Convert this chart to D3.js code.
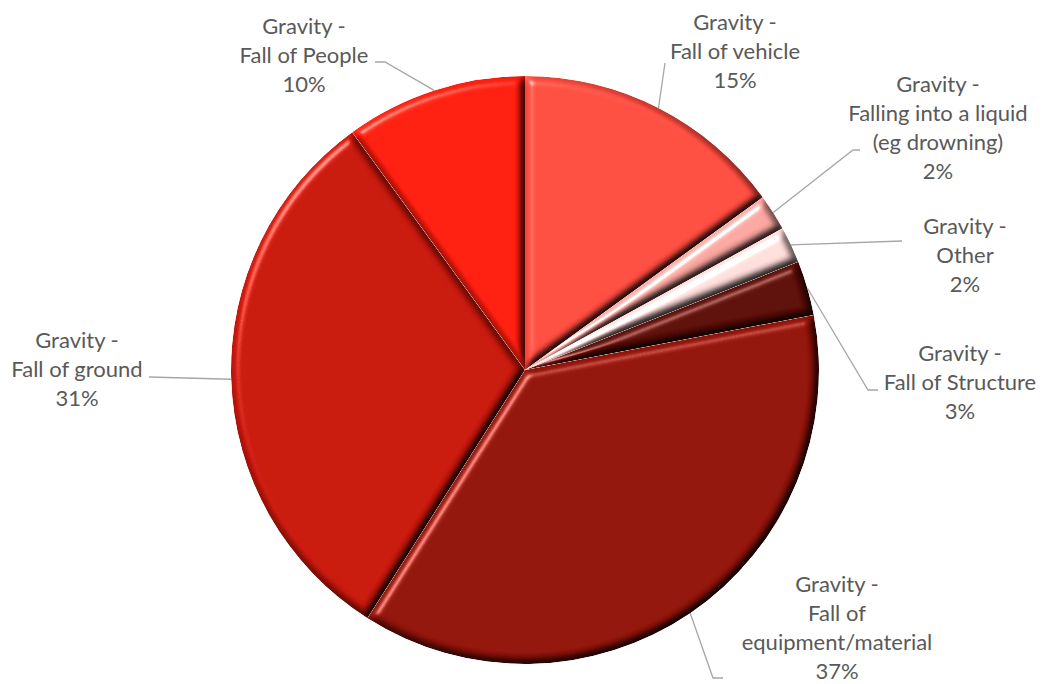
<!DOCTYPE html>
<html>
<head>
<meta charset="utf-8">
<script src="https://cdn.jsdelivr.net/npm/d3@7"></script>
<style>
  html, body { margin: 0; padding: 0; background: #fff; }
  svg { display: block; }
  text { font-family: Lato, "Open Sans", sans-serif; fill: #595959; }
</style>
</head>
<body>
<svg id="chart" width="1044" height="684"></svg>
<script>
// ---- data ----
const categories = [
  "Gravity - Fall of vehicle",
  "Gravity - Falling into a liquid (eg drowning)",
  "Gravity - Other",
  "Gravity - Fall of Structure",
  "Gravity - Fall of equipment/material",
  "Gravity - Fall of ground",
  "Gravity - Fall of People"
];
const values = [15, 2, 2, 3, 37, 31, 10];
const labelLines = [
  ["Gravity -", "Fall of vehicle"],
  ["Gravity -", "Falling into a liquid", "(eg drowning)"],
  ["Gravity -", "Other"],
  ["Gravity -", "Fall of Structure"],
  ["Gravity -", "Fall of", "equipment/material"],
  ["Gravity -", "Fall of ground"],
  ["Gravity -", "Fall of People"]
];
const colors = ["#FF4A3E", "#F6A29C", "#FBD9D6", "#5A0B05", "#8E1108", "#C4150A", "#FF1B0C"];

// ---- layout (label placement: centre x, first baseline y, leader elbow & end) ----
const labelLayout = [
  { x: 735, y: 30,  elbow: [665, 63],  end: [665, 63] },
  { x: 938, y: 92,  elbow: [853, 150], end: [860, 150] },
  { x: 965, y: 234, elbow: [902, 241], end: [902, 241] },
  { x: 960, y: 361, elbow: [868, 390], end: [878, 390] },
  { x: 837, y: 592, elbow: [713, 678], end: [723, 678] },
  { x: 77,  y: 348, elbow: [149, 377], end: [149, 377] },
  { x: 304, y: 34,  elbow: [385, 62],  end: [375, 62] }
];
const lineHeight = 29;

const width = 1044, height = 684;
const cx = 525, cy = 370, radius = 294;

const svg = d3.select("#chart");
const defs = svg.append("defs");

const f = defs.append("filter").attr("id", "bevel")
  .attr("x", "-5%").attr("y", "-5%").attr("width", "110%").attr("height", "110%")
  .attr("color-interpolation-filters", "sRGB");
f.append("feGaussianBlur").attr("in", "SourceAlpha").attr("stdDeviation", 4.5).attr("result", "b");
const dl = f.append("feDiffuseLighting").attr("in", "b").attr("surfaceScale", 7)
  .attr("diffuseConstant", 1.155).attr("lighting-color", "#fff").attr("result", "d");
dl.append("feDistantLight").attr("azimuth", 225).attr("elevation", 60);
const sl = f.append("feSpecularLighting").attr("in", "b").attr("surfaceScale", 7)
  .attr("specularConstant", 1).attr("specularExponent", 25).attr("lighting-color", "#fff").attr("result", "s");
sl.append("feDistantLight").attr("azimuth", 225).attr("elevation", 35);
f.append("feComposite").attr("in", "SourceGraphic").attr("in2", "d").attr("operator", "arithmetic")
  .attr("k1", 1).attr("k2", 0).attr("k3", 0).attr("k4", 0).attr("result", "lit");
f.append("feComposite").attr("in", "s").attr("in2", "SourceAlpha").attr("operator", "in").attr("result", "sIn");
f.append("feComposite").attr("in", "lit").attr("in2", "sIn").attr("operator", "arithmetic")
  .attr("k1", 0).attr("k2", 1).attr("k3", 0.5).attr("k4", 0).attr("result", "out");
f.append("feComposite").attr("in", "out").attr("in2", "SourceAlpha").attr("operator", "in");

const data = categories.map((c, i) => ({ cat: c, value: values[i], i }));
const pie = d3.pie().value(d => d.value).sort(null);
const arcs = pie(data);
const arc = d3.arc().innerRadius(0).outerRadius(radius);

const g = svg.append("g").attr("transform", `translate(${cx},${cy})`);
g.selectAll("path.slice").data(arcs).join("path")
  .attr("class", "slice")
  .attr("d", arc)
  .attr("fill", d => colors[d.data.i])
  .attr("filter", "url(#bevel)");

// leader lines
const lines = svg.append("g");
arcs.forEach(a => {
  const mid = (a.startAngle + a.endAngle) / 2;
  const px = cx + radius * Math.sin(mid);
  const py = cy - radius * Math.cos(mid);
  const L = labelLayout[a.data.i];
  lines.append("path")
    .attr("d", d3.line()([[px, py], L.elbow, L.end]))
    .attr("fill", "none").attr("stroke", "#A6A6A6").attr("stroke-width", 1.3);
});

// labels
const fmt = d3.format(".0%");
const total = d3.sum(values);
const lab = svg.append("g");
arcs.forEach(a => {
  const L = labelLayout[a.data.i];
  const ls = labelLines[a.data.i].concat([fmt(a.data.value / total)]);
  const t = lab.append("text").attr("text-anchor", "middle").attr("font-size", 22);
  ls.forEach((s, k) => {
    t.append("tspan").attr("x", L.x).attr("y", L.y + k * lineHeight).text(s);
  });
});
</script>
</body>
</html>
